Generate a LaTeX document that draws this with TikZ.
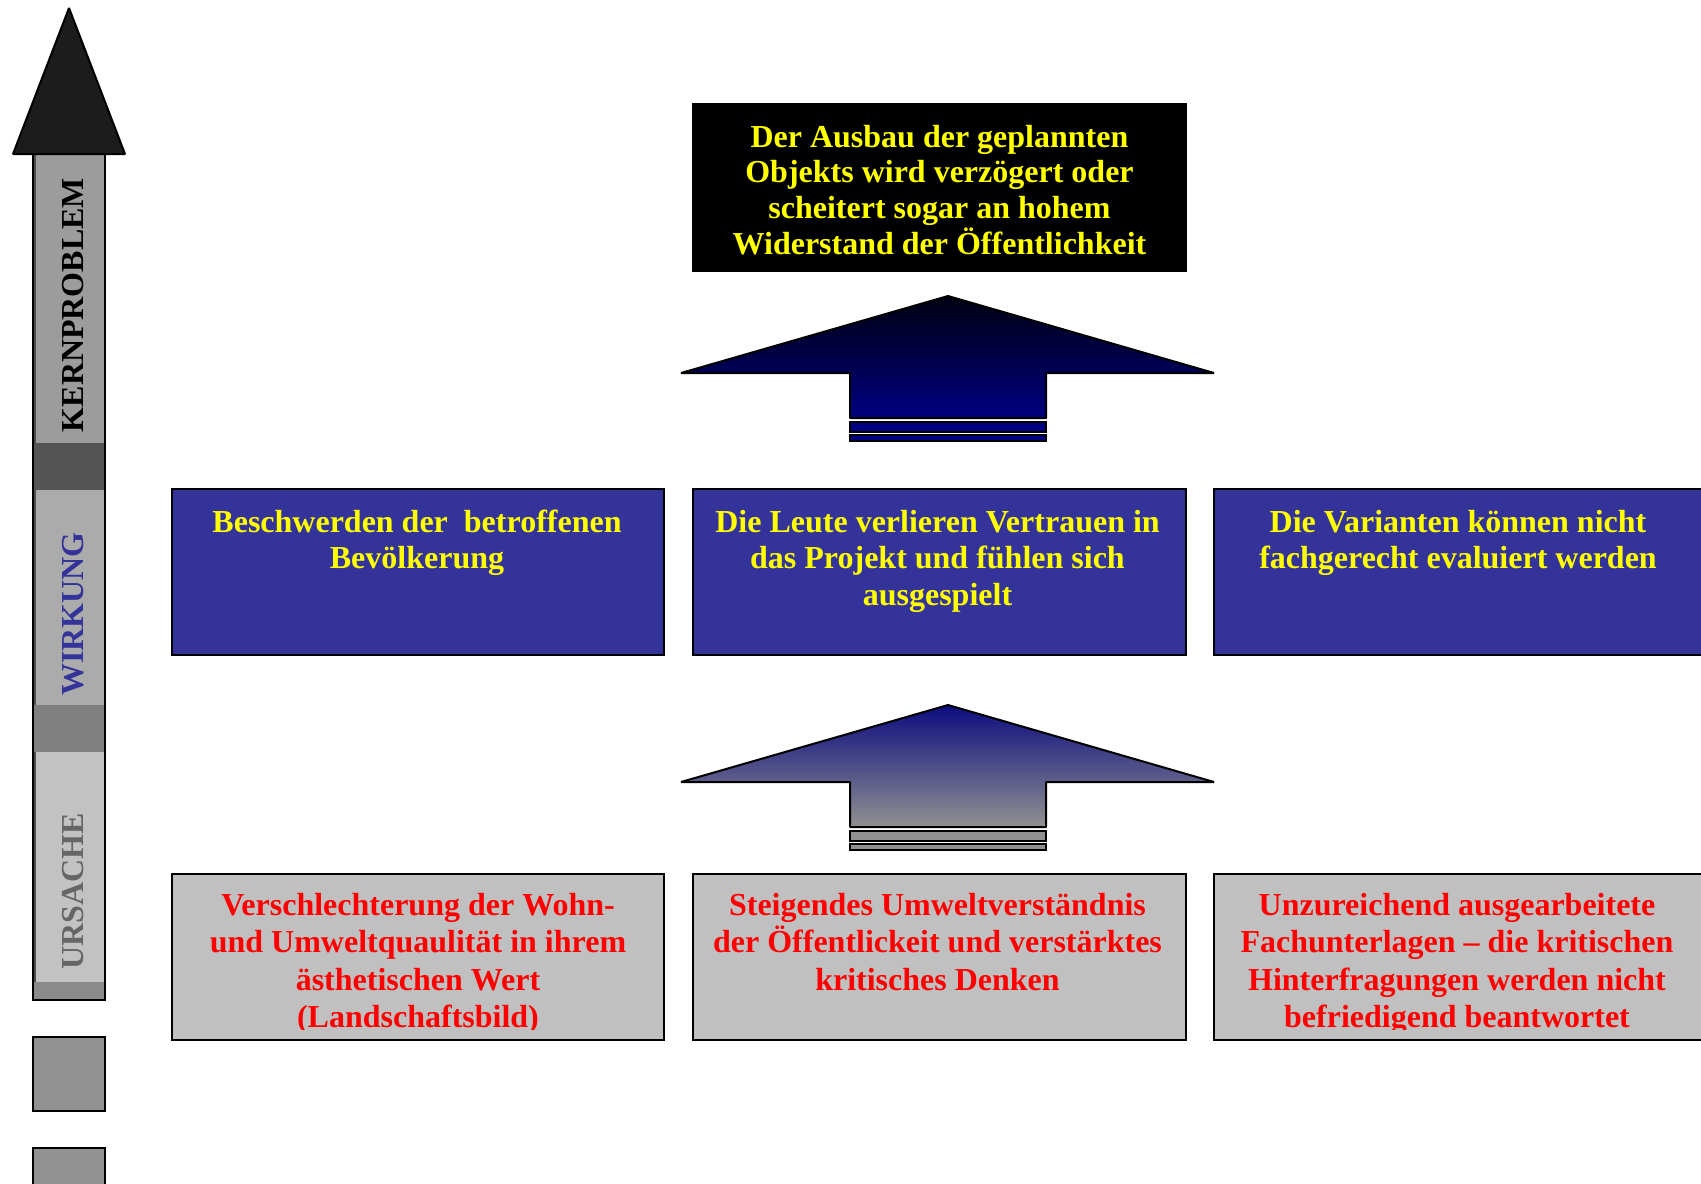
\documentclass[tikz,border=0pt]{standalone}
\usepackage{fontspec}
\setmainfont{Liberation Serif}
\definecolor{boxblue}{HTML}{333399}
\definecolor{boxgray}{HTML}{C0C0C0}
\definecolor{txtyellow}{HTML}{FFFF00}
\definecolor{txtred}{HTML}{FF0000}
\definecolor{navyA}{HTML}{000012}
\definecolor{navyB}{HTML}{000080}
\definecolor{navyC}{HTML}{0C0C80}
\definecolor{grayB}{HTML}{909090}
\begin{document}
\begin{tikzpicture}[x=0.5pt,y=-0.5pt,
  box/.style={draw=black, line width=1.1pt},
  topbox/.style={box, fill=black},
  midbox/.style={box, fill=boxblue},
  botbox/.style={box, fill=boxgray},
  boxtext/.style={inner sep=0pt, anchor=base, font=\bfseries\fontsize{16}{18.3}\selectfont},
  sidelabel/.style={rotate=90, inner sep=0pt, anchor=base, font=\bfseries\fontsize{16}{18}\selectfont},
  arrowline/.style={draw=black, line width=1pt, line join=bevel},
  bar/.style={draw=black, line width=0.8pt}
]
\useasboundingbox (0,0) rectangle (1701,1183);
\clip (0,0) rectangle (1701,1183);

% ---- left vertical arrow ----
\fill[black!70] (33,154) rectangle (105,1000);
\fill[fill=black!67] (33,443) rectangle (105,490);
\fill[fill=black!50] (33,705) rectangle (105,752);
\fill[fill=black!46] (33,982) rectangle (105,1000);
\fill[fill=black!39] (36,154) rectangle (104,443);
\fill[fill=black!33] (36,490) rectangle (104,705);
\fill[fill=black!24] (36,752) rectangle (104,982);
\draw[line width=1pt] (33,154) rectangle (105,1000);
\draw[line width=1pt, line join=bevel, fill=black!89] (69,8) -- (125,154) -- (13,154) -- cycle;
\node[sidelabel, text=black] (kern) at (83,305) {KERNPROBLEM};
\node[sidelabel, text=boxblue] (wirk) at (83,614) {WIRKUNG};
\node[sidelabel, text=black!60] (urs) at (83,891) {URSACHE};
\draw[line width=1pt, fill=black!43] (33,1037) rectangle (105,1111);
\draw[line width=1pt, fill=black!43] (33,1148) rectangle (105,1200);

% ---- boxes ----
\draw[topbox] (693,104) rectangle (1186,271);
\node[boxtext, text=txtyellow, font=\bfseries\fontsize{16}{17.9}\selectfont] (top) at (939.5,147)
  {\parbox[t]{250pt}{\centering Der Ausbau der geplannten\\ Objekts wird verzögert oder\\ scheitert sogar an hohem\\ Widerstand der Öffentlichkeit}};

\draw[midbox] (172,489) rectangle (664,655);
\draw[midbox] (693,489) rectangle (1186,655);
\draw[midbox] (1214,489) rectangle (1707,655);
\node[boxtext, text=txtyellow] (m1) at (417,532)
  {\parbox[t]{250pt}{\centering Beschwerden der~ betroffenen\\ Bevölkerung}};
\node[boxtext, text=txtyellow] (m2) at (937.5,532)
  {\parbox[t]{250pt}{\centering Die Leute verlieren Vertrauen in\\ das Projekt und fühlen sich\\ ausgespielt}};
\node[boxtext, text=txtyellow] (m3) at (1458,532)
  {\parbox[t]{250pt}{\centering Die Varianten können nicht\\ fachgerecht evaluiert werden}};

\draw[botbox] (172,874) rectangle (664,1040);
\draw[botbox] (693,874) rectangle (1186,1040);
\draw[botbox] (1214,874) rectangle (1707,1040);
\begin{scope}
\clip (172,874) rectangle (1707,1029);
\node[boxtext, text=txtred, font=\bfseries\fontsize{16}{18.8}\selectfont] (b1) at (418,915)
  {\parbox[t]{250pt}{\centering Verschlechterung der Wohn-\\ und Umweltquaulität in ihrem\\ ästhetischen Wert\\ (Landschaftsbild)}};
\node[boxtext, text=txtred, font=\bfseries\fontsize{16}{18.8}\selectfont] (b2) at (937.5,915)
  {\parbox[t]{250pt}{\centering Steigendes Umweltverständnis\\ der Öffentlickeit und verstärktes\\ kritisches Denken}};
\node[boxtext, text=txtred, font=\bfseries\fontsize{16}{18.8}\selectfont] (b3) at (1457,915)
  {\parbox[t]{250pt}{\centering Unzureichend ausgearbeitete\\ Fachunterlagen – die kritischen\\ Hinterfragungen werden nicht\\ befriedigend beantwortet}};
\end{scope}

% ---- upper block arrow ----
\path[arrowline, top color=navyA, bottom color=navyB]
  (948,296) -- (1214,373) -- (1046,373) -- (1046,418) -- (850,418) -- (850,373) -- (681,373) -- cycle;
\draw[bar, fill=navyB] (850,422) rectangle (1046,432);
\draw[bar, fill=navyB] (850,435) rectangle (1046,441);

% ---- lower block arrow ----
\path[arrowline, top color=navyC, bottom color=grayB]
  (948,705) -- (1214,782) -- (1046,782) -- (1046,827) -- (850,827) -- (850,782) -- (681,782) -- cycle;
\draw[bar, fill=grayB] (850,831) rectangle (1046,841);
\draw[bar, fill=grayB] (850,844) rectangle (1046,850);
\end{tikzpicture}
\end{document}
